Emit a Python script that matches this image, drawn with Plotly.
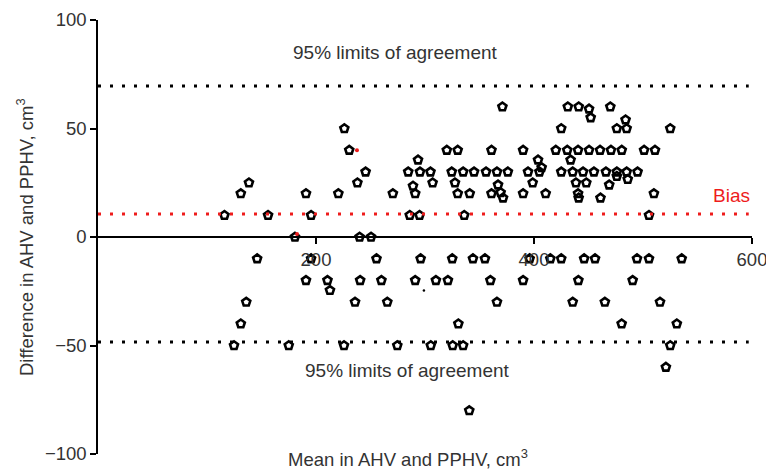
import plotly.graph_objects as go

# ---------------- data ----------------
mean_vals = [
    116, 131, 138.5, 156, 180.7, 190.8, 195.5, 220.5, 226, 230.5, 238, 245.5, 240, 250.5,
    270.5, 284.6, 293.6, 289, 291, 295.4, 305, 307, 286, 295, 320, 330, 324.5, 335, 345,
    356, 366, 376, 327.5, 330, 341, 336, 361, 361, 367, 369.4, 371.6, 371, 390, 390, 394.5,
    403.7, 398.8, 405, 407, 410.7, 425, 420, 430.5, 440.4, 450.5, 460.6, 470.6, 480.5, 501,
    511, 425, 433.6, 435.5, 445, 455, 466, 476, 485, 495, 438.5, 448, 440.4, 441, 476, 486,
    469, 461, 510, 505.5, 431, 441, 450.5, 452, 470, 484, 476, 485, 525,
    146, 195.5, 255.5, 296, 325, 344, 355, 396, 415, 425, 446, 456, 494.5, 505.5, 535.5,
    190.8, 210.5, 212.8, 240.5, 260, 291, 310, 321, 360, 390, 440.7, 490.5,
    136, 235.8, 265.4, 366, 435.5, 465, 515.6,
    131, 330.6, 480.4, 531,
    124.8, 175, 225.7, 274.6, 305.3, 325.4, 335, 525,
    521, 340.6,
]
diff_vals = [
    10, 20, 25, 10, 0, 20, 10, 20, 50, 40, 25, 30, 0, 0,
    20, 30, 35.5, 23.5, 20, 30, 30, 25, 10, 10, 40, 40, 30, 30, 30,
    30, 30, 30, 25, 20, 20, 10, 40, 20, 24, 20.5, 18, 60, 40, 20, 30,
    35.5, 25, 30, 32, 20, 50, 40, 40, 40, 40, 40, 40, 40, 40,
    40, 30, 35.5, 30, 30, 30, 30, 30, 30, 30, 25, 25, 20, 18, 28, 26.6,
    24, 18, 20, 10, 60, 60, 59, 55, 60, 54, 50, 50, 50,
    -10, -10, -10, -10, -10, -10, -10, -10, -10, -10, -10, -10, -10, -10, -10,
    -20, -20, -24.6, -20, -20, -20, -20, -20, -20, -20, -20, -20,
    -30, -30, -30, -30, -30, -30, -30,
    -40, -40, -40, -40,
    -50, -50, -50, -50, -50, -50, -50, -50,
    -60, -80,
]

# small print specks visible in the reference
speck_red_x = [182.6, 237.6]
speck_red_y = [1.4, 40.0]
speck_black_x = [299]
speck_black_y = [-24.7]

bias = 10.6
upper_loa = 69.6
lower_loa = -48.4

x_ticks = [200, 400, 600]
y_ticks = [-100, -50, 0, 50, 100]

# ---------------- figure ----------------
FONT = "Liberation Sans, Arial, Helvetica, sans-serif"
TXT = "#333333"
RED = "#ee1c1c"

fig = go.Figure()

fig.add_trace(go.Scatter(
    x=mean_vals, y=diff_vals, mode="markers",
    marker=dict(symbol="pentagon-open", size=8.5, color="black",
                line=dict(color="black", width=2.6)),
    showlegend=False, hoverinfo="skip",
))
fig.add_trace(go.Scatter(
    x=speck_red_x, y=speck_red_y, mode="markers",
    marker=dict(symbol="circle", size=4, color=RED),
    showlegend=False, hoverinfo="skip",
))
fig.add_trace(go.Scatter(
    x=speck_black_x, y=speck_black_y, mode="markers",
    marker=dict(symbol="circle", size=2.5, color="black"),
    showlegend=False, hoverinfo="skip",
))

line_end = 597
for yv, col in [(upper_loa, "black"), (bias, RED), (lower_loa, "black")]:
    fig.add_shape(type="line", xref="x", yref="y", x0=0, x1=line_end, y0=yv, y1=yv,
                  line=dict(color=col, width=3, dash="3px,9px"), layer="above")

fig.add_annotation(x=273, y=84.8, xref="x", yref="y", text="95% limits of agreement",
                   showarrow=False, font=dict(family=FONT, size=19, color=TXT))
fig.add_annotation(x=284, y=-61.3, xref="x", yref="y", text="95% limits of agreement",
                   showarrow=False, font=dict(family=FONT, size=19, color=TXT))
fig.add_annotation(x=581, y=19, xref="x", yref="y", text="Bias",
                   showarrow=False, font=dict(family=FONT, size=19, color=RED))

fig.add_annotation(x=0.474, y=0, xref="paper", yref="paper", yanchor="middle", yshift=-4,
                   text="Mean in AHV and PPHV, cm<sup>3</sup>", showarrow=False,
                   font=dict(family=FONT, size=18.5, color=TXT))
fig.add_annotation(x=0, y=0.5, xref="paper", yref="paper", xshift=-73, textangle=-90,
                   xanchor="center", yanchor="middle",
                   text="Difference in AHV and PPHV, cm<sup>3</sup>", showarrow=False,
                   font=dict(family=FONT, size=18.5, color=TXT))

fig.update_layout(
    width=766, height=471, autosize=False,
    margin=dict(l=98, r=14, t=20, b=17, autoexpand=False),
    paper_bgcolor="white", plot_bgcolor="white",
    font=dict(family=FONT, size=18, color=TXT),
    showlegend=False,
    xaxis=dict(range=[0, 600], tickvals=x_ticks, ticks="outside", ticklen=6,
               tickcolor="black", tickwidth=1.5, showline=True, linecolor="black",
               linewidth=1.5, showgrid=False, zeroline=False, anchor="free",
               position=0.5, ticklabeloverflow="allow", automargin=False,
               tickfont=dict(family=FONT, size=18.5, color=TXT)),
    yaxis=dict(range=[-100, 100], tickvals=y_ticks, ticks="outside", ticklen=6,
               tickcolor="black", tickwidth=1.5, showline=True, linecolor="black",
               linewidth=1.5, showgrid=False, zeroline=False, automargin=False,
               ticklabeloverflow="allow",
               tickfont=dict(family=FONT, size=18.5, color=TXT)),
)

fig.write_html("out.html",
               config=dict(displayModeBar=False, responsive=False),
               post_script="document.body.style.margin='0';document.body.style.overflow='hidden';")
